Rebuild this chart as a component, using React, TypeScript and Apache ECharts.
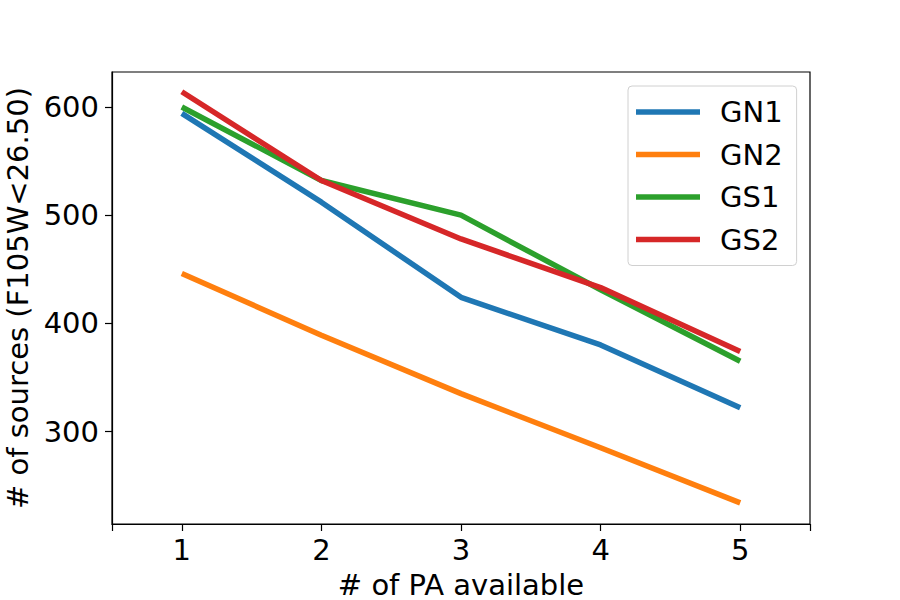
import React, { useEffect, useRef } from "react";
import * as echarts from "echarts";

const seriesNames = ["GN1", "GN2", "GS1", "GS2"];
const xValues = [1, 2, 3, 4, 5];
const gn1 = [594, 512, 424, 380, 322];
const gn2 = [446, 389, 335, 285, 234];
const gs1 = [600, 532, 500, 431, 365];
const gs2 = [614, 532, 478, 433, 374];
const colors = ["#1f77b4", "#ff7f0e", "#2ca02c", "#d62728"];
const xTickValues = [0.5, 1, 2, 3, 4, 5, 5.5];
const xLabelValues = [1, 2, 3, 4, 5];
const yTickValues = [300, 400, 500, 600];

export default function App() {
  const ref = useRef<HTMLDivElement>(null);
  useEffect(() => {
    if (!ref.current) return;
    const chart = echarts.init(ref.current, null, { renderer: "svg" });
    const all = [gn1, gn2, gs1, gs2];
    const font = "DejaVu Sans";
    const fs = 29;
    chart.setOption({
      animation: false,
      backgroundColor: "#fff",
      textStyle: { fontFamily: font },
      grid: {
        left: 112,
        right: 90,
        top: 72,
        bottom: 76,
        containLabel: false,
        outerBoundsMode: "none",
        show: true,
        borderColor: "#000",
        borderWidth: 1.2,
        backgroundColor: "transparent",
      },
      legend: {
        orient: "vertical",
        left: 628,
        top: 86,
        data: seriesNames,
        icon: "rect",
        itemWidth: 64,
        itemHeight: 5.5,
        itemGap: 12.5,
        itemStyle: { borderWidth: 0 },
        textStyle: {
          fontSize: fs,
          color: "#000",
          fontFamily: font,
          lineHeight: 30,
          padding: [0, 0, 0, 15],
        },
        padding: [11, 14, 11, 8],
        borderColor: "#d0d0d0",
        borderWidth: 1,
        borderRadius: 4,
        backgroundColor: "rgba(255,255,255,0.8)",
      },
      xAxis: {
        type: "value",
        min: 0.5,
        max: 5.5,
        name: "# of PA available",
        nameLocation: "middle",
        nameGap: 46,
        nameTextStyle: { fontSize: fs, color: "#000", fontFamily: font },
        axisLine: { show: true, lineStyle: { color: "#000", width: 1.2 } },
        axisTick: {
          show: true,
          customValues: xTickValues,
          length: 7,
          lineStyle: { color: "#000", width: 1.2 },
        },
        axisLabel: {
          customValues: xLabelValues,
          fontSize: fs,
          color: "#000",
          margin: 11,
          fontFamily: font,
        },
        splitLine: { show: false },
      },
      yAxis: {
        type: "value",
        min: 214.5,
        max: 632.3,
        name: "# of sources (F105W<26.50)",
        nameLocation: "middle",
        nameRotate: 90,
        nameGap: 79,
        nameTextStyle: { fontSize: fs, color: "#000", fontFamily: font },
        axisLine: { show: true, lineStyle: { color: "#000", width: 1.2 } },
        axisTick: {
          show: true,
          customValues: yTickValues,
          length: 7,
          lineStyle: { color: "#000", width: 1.2 },
        },
        axisLabel: {
          customValues: yTickValues,
          fontSize: fs,
          color: "#000",
          margin: 13,
          fontFamily: font,
        },
        splitLine: { show: false },
      },
      series: seriesNames.map((name, i) => ({
        name,
        type: "line",
        data: xValues.map((x, j) => [x, all[i][j]]),
        showSymbol: false,
        symbol: "none",
        lineStyle: { color: colors[i], width: 5.5 },
        itemStyle: { color: colors[i] },
        z: 2 + i,
      })),
    });
    return () => chart.dispose();
  }, []);
  return (
    <div
      ref={ref}
      style={{ position: "absolute", left: 0, top: 0, width: 900, height: 600 }}
    />
  );
}
